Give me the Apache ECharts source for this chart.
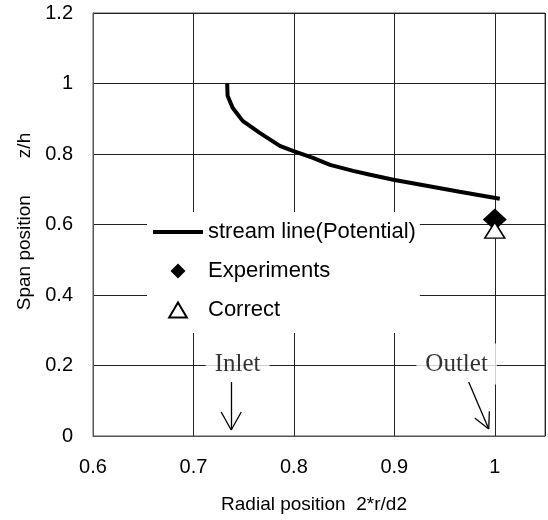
<!DOCTYPE html>
<html><head><meta charset="utf-8">
<script src="https://cdn.jsdelivr.net/npm/echarts@6/dist/echarts.min.js"></script>
<style>html,body{margin:0;padding:0;background:#fff}#c{width:548px;height:520px}</style>
</head><body><div id="c"></div>
<script>
// ---- data ----
const streamX = [0.7336, 0.734, 0.739, 0.749, 0.766, 0.786, 0.799, 0.819, 0.836, 0.859, 0.876, 0.899, 0.932, 0.965, 1.005];
const streamY = [1.000, 0.965, 0.931, 0.894, 0.860, 0.823, 0.809, 0.789, 0.769, 0.752, 0.741, 0.727, 0.710, 0.693, 0.673];
const expX = [1.0];
const expY = [0.614];
const corX = [1.0];
const corY = [0.584];
const seriesNames = ['stream line(Potential)', 'Experiments', 'Correct'];
const xTicks = [0.6, 0.7, 0.8, 0.9, 1.0];
const yTicks = [0, 0.2, 0.4, 0.6, 0.8, 1.0, 1.2];
// annotations (data coordinates)
const noteLabels = ['Inlet', 'Outlet'];
const noteX = [0.744, 0.962];
const noteY = [0.204, 0.204];
const inletArrow = [[0.7376, 0.153], [0.7376, 0.017]];
const inletBarbs = [[0.7276, 0.068], [0.7476, 0.068]];
const outletArrow = [[0.974, 0.153], [0.994, 0.020]];
const outletBarbs = [[0.980, 0.051], [0.9946, 0.070]];

const zip = (a, b) => a.map((v, i) => [v, b[i]]);
const chart = echarts.init(document.getElementById('c'));
const sans = 'Liberation Sans, Arial, sans-serif';
const axisFont = { fontFamily: sans, fontSize: 20, color: '#000' };
chart.setOption({
  animation: false,
  backgroundColor: '#fff',
  grid: { left: 93, right: 3, top: 13, bottom: 84, show: true, borderColor: '#555', borderWidth: 1, containLabel: false, outerBoundsMode: 'none' },
  xAxis: {
    type: 'value', min: 0.6, max: 1.05, interval: 0.1,
    name: 'Radial position  2*r/d2', nameLocation: 'middle', nameGap: 59,
    nameTextStyle: { fontFamily: sans, fontSize: 19, color: '#000', padding: [0, 10, 0, 0] },
    axisLine: { show: true, lineStyle: { color: '#555', width: 1 } },
    axisTick: { show: false },
    axisLabel: Object.assign({ margin: 21, customValues: xTicks }, axisFont),
    splitLine: { show: true, lineStyle: { color: '#222', width: 1 } }
  },
  yAxis: {
    type: 'value', min: 0, max: 1.2, interval: 0.2,
    name: 'Span position       z/h', nameLocation: 'middle', nameGap: 54,
    nameTextStyle: { fontFamily: sans, fontSize: 19, color: '#000', padding: [0, 0, 0, 6] },
    axisLine: { show: true, lineStyle: { color: '#555', width: 1 } },
    axisTick: { show: false },
    axisLabel: Object.assign({ margin: 20, customValues: yTicks }, axisFont),
    splitLine: { show: true, lineStyle: { color: '#222', width: 1 } }
  },
  legend: {
    data: [
      { name: seriesNames[0], icon: 'path://M0,0L50,0L50,4L0,4Z' },
      { name: seriesNames[1], icon: 'path://M5,0L10,5L5,10L0,5Z' },
      { name: seriesNames[2], icon: 'path://M5,0L10,8.5L0,8.5Z' }
    ],
    orient: 'vertical', left: 147, top: 212,
    backgroundColor: '#fff',
    padding: [9, 4, 12, 6],
    itemWidth: 50, itemHeight: 15, itemGap: 17,
    textStyle: { fontFamily: sans, fontSize: 22, color: '#000' },
    z: 10
  },
  series: [
    {
      name: seriesNames[0], type: 'line', data: zip(streamX, streamY),
      showSymbol: false, symbol: 'none', smooth: false,
      lineStyle: { color: '#000', width: 4 }, itemStyle: { color: '#000' }, z: 3
    },
    {
      name: seriesNames[1], type: 'scatter', data: zip(expX, expY),
      symbol: 'diamond', symbolSize: [24, 22],
      itemStyle: { color: '#000', opacity: 1 }, z: 4
    },
    {
      name: seriesNames[2], type: 'scatter', data: zip(corX, corY),
      symbol: 'triangle', symbolSize: [20, 16],
      itemStyle: { color: '#fff', borderColor: '#000', borderWidth: 1.5, opacity: 1 }, z: 5
    },
    {
      name: 'notes', type: 'scatter', data: zip(noteX, noteY),
      symbolSize: 0, silent: true, z: 6,
      label: {
        show: true, position: 'inside',
        formatter: p => noteLabels[p.dataIndex],
        fontFamily: 'Liberation Serif, Times New Roman, serif', fontSize: 25, color: '#000',
        backgroundColor: '#fff', padding: [8, 9], lineHeight: 25
      }
    },
    {
      name: 'arrows', type: 'lines', coordinateSystem: 'cartesian2d', silent: true, z: 7,
      lineStyle: { color: '#000', width: 1.3, opacity: 1 },
      data: [
        { coords: inletArrow },
        { coords: [inletBarbs[0], inletArrow[1]] },
        { coords: [inletBarbs[1], inletArrow[1]] },
        { coords: outletArrow },
        { coords: [outletBarbs[0], outletArrow[1]] },
        { coords: [outletBarbs[1], outletArrow[1]] }
      ]
    }
  ]
});
</script></body></html>
